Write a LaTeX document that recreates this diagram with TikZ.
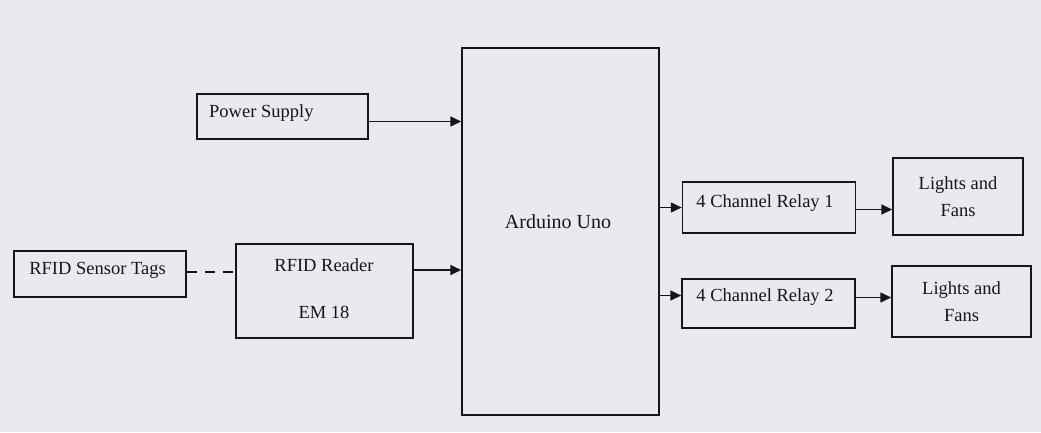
\documentclass[tikz,border=0pt]{standalone}
\usepackage{fontspec}
\setmainfont{Liberation Serif}
\usetikzlibrary{arrows.meta,calc}
\definecolor{bgc}{RGB}{233,233,239}
\definecolor{ink}{RGB}{22,22,26}
\begin{document}
\begin{tikzpicture}[x=1pt,y=-1pt,
  blk/.style={draw=ink,line width=1.5pt,fill=bgc,inner sep=0pt},
  lbl/.style={font=\fontsize{18.5}{20}\selectfont,text=ink,inner sep=0pt},
  conn/.style={draw=ink,line width=1.6pt,-{Triangle[length=11pt,width=10pt]}},
  dconn/.style={draw=ink,line width=1.6pt,dash pattern=on 10pt off 8pt}]
\fill[bgc] (0,0) rectangle (1041,432);
\useasboundingbox (0,0) rectangle (1041,432);
% boxes
\node[blk,minimum width=171pt,minimum height=45pt] (ps) at (282.5,116.5) {};
\node[blk,minimum width=197pt,minimum height=367pt] (ard) at (560.5,231.5) {};
\node[blk,minimum width=172pt,minimum height=46pt] (tags) at (100,274) {};
\node[blk,minimum width=177pt,minimum height=94pt] (rd) at (324.5,291) {};
\node[blk,minimum width=173pt,minimum height=51pt] (r1) at (769,207.5) {};
\node[blk,minimum width=173pt,minimum height=49pt] (r2) at (768.5,303.5) {};
\node[blk,minimum width=130pt,minimum height=77pt,align=center,
  font=\fontsize{18.5}{27}\selectfont,text=ink] (l1) at (958,196.5) {Lights and\\Fans};
\node[blk,minimum width=139pt,minimum height=71pt,align=center,
  font=\fontsize{18.5}{27}\selectfont,text=ink] (l2) at (961.5,301.5) {Lights and\\Fans};
% labels
\node[lbl,anchor=west] (psl) at (209,113) {Power Supply};
\node[lbl,font=\fontsize{20}{22}\selectfont] (ardl) at (558,222) {Arduino Uno};
\node[lbl] (tagsl) at (97.5,270) {RFID Sensor Tags};
\node[lbl] (rdl1) at (324,265) {RFID Reader};
\node[lbl] (rdl2) at (324,312) {EM 18};
\node[lbl] (r1l) at (765,203) {4 Channel Relay 1};
\node[lbl] (r2l) at (765,297) {4 Channel Relay 2};
% connectors
\draw[conn] ([yshift=-5pt]ps.east) -- ([yshift=-5pt]ps.east -| ard.west);
\draw[dconn] ([yshift=2pt]tags.east) -- ([yshift=2pt]tags.east -| rd.west);
\draw[conn] ([yshift=21pt]rd.east) -- ([yshift=21pt]rd.east -| ard.west);
\draw[conn] (ard.east |- r1.west) -- (r1.west);
\draw[conn] ([yshift=8pt]ard.east |- r2.west) -- ([yshift=8pt]r2.west);
\draw[conn] ([yshift=-2pt]r1.east) -- ([yshift=-2pt]r1.east -| l1.west);
\draw[conn] ([yshift=6pt]r2.east) -- ([yshift=6pt]r2.east -| l2.west);
\end{tikzpicture}
\end{document}
